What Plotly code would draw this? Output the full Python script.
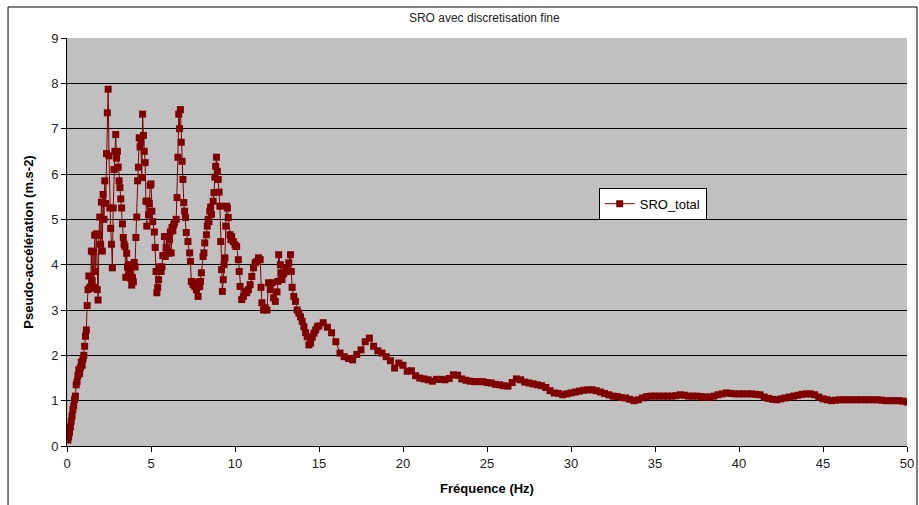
import plotly.graph_objects as go

# Frequencies (Hz) and pseudo-accelerations (m.s-2)
freq_low = [0.05, 0.1, 0.15, 0.2, 0.25, 0.3, 0.35, 0.4, 0.45, 0.5, 0.55, 0.6, 0.65, 0.7, 0.75, 0.8, 0.85, 0.9, 0.95, 1.0,
            1.05, 1.1, 1.15, 1.2, 1.25, 1.3, 1.35, 1.4, 1.45, 1.5, 1.55, 1.6, 1.65, 1.7, 1.75, 1.8, 1.85, 1.9, 1.95, 2.0,
            2.05, 2.1, 2.15, 2.2, 2.25, 2.3, 2.35, 2.4, 2.45, 2.5, 2.55, 2.6, 2.65, 2.7, 2.75, 2.8, 2.85, 2.9, 2.95, 3.0,
            3.05, 3.1, 3.15, 3.2, 3.25, 3.3, 3.35, 3.4, 3.45, 3.5, 3.55, 3.6, 3.65, 3.7, 3.75, 3.8, 3.85, 3.9, 3.95, 4.0,
            4.05, 4.1, 4.15, 4.2, 4.25, 4.3, 4.35, 4.4, 4.45, 4.5, 4.55, 4.6, 4.65, 4.7, 4.75, 4.8, 4.85, 4.9, 4.95, 5.0,
            5.05, 5.1, 5.2, 5.25, 5.3, 5.35, 5.4, 5.45, 5.5, 5.55, 5.6, 5.65, 5.7, 5.8, 5.85, 5.9, 5.95, 6.0,
            6.05, 6.1, 6.15, 6.2, 6.25, 6.3, 6.35, 6.4, 6.5, 6.55, 6.6, 6.65, 6.7, 6.75, 6.8, 6.85, 6.9, 6.95, 7.0,
            7.05, 7.1, 7.2, 7.3, 7.35, 7.4, 7.5, 7.55, 7.6, 7.7, 7.75, 7.8, 7.85, 7.9, 7.95, 8.0,
            8.1, 8.15, 8.2, 8.3, 8.35, 8.4, 8.45, 8.5, 8.55, 8.6, 8.7, 8.75, 8.8, 8.85, 8.9, 8.95, 9.0,
            9.05, 9.1, 9.15, 9.2, 9.25, 9.3, 9.35, 9.4, 9.45, 9.5, 9.55, 9.6, 9.7, 9.75, 9.8, 9.9, 10.0,
            10.05, 10.1, 10.2, 10.25, 10.3, 10.4, 10.5, 10.6, 10.7, 10.8, 10.9, 11.0,
            11.1, 11.2, 11.3, 11.4, 11.5, 11.55, 11.6, 11.7, 11.8, 11.9, 12.0,
            12.1, 12.2, 12.3, 12.4, 12.5, 12.55, 12.6, 12.7, 12.75, 12.8, 12.9, 13.0,
            13.1, 13.2, 13.3, 13.35, 13.4, 13.5, 13.6, 13.7, 13.8, 13.9, 14.0,
            14.1, 14.2, 14.3, 14.4, 14.5, 14.6, 14.7, 14.8, 14.9]
sro_low = [0.13, 0.2, 0.3, 0.42, 0.55, 0.66, 0.8, 0.88, 1.02, 1.1, 1.35, 1.42, 1.55, 1.68, 1.6, 1.73, 1.85, 1.78, 1.92, 2.0,
           2.2, 2.42, 2.56, 3.1, 3.45, 3.75, 3.5, 3.48, 4.3, 3.65, 4.28, 3.5, 4.65, 3.85, 4.68, 3.45, 3.22, 4.65, 5.05, 4.45,
           5.38, 4.3, 5.55, 5.0, 5.85, 5.35, 6.45, 7.35, 7.87, 6.4, 5.25, 4.8, 4.45, 3.93, 5.25, 6.1, 6.5, 6.87, 6.35, 6.5,
           6.15, 5.85, 5.7, 5.45, 5.25, 4.9, 4.6, 4.45, 4.4, 3.72, 4.25, 3.95, 3.75, 4.0, 3.85, 3.7, 3.55, 3.72, 3.62, 4.05,
           3.95, 4.6, 5.05, 5.85, 6.15, 6.8, 6.6, 6.72, 5.92, 7.32, 6.85, 6.5, 6.25, 5.4, 4.85, 5.4, 5.1, 5.35, 5.75, 5.78,
           5.18, 4.95, 4.72, 4.38, 3.85, 3.38, 3.5, 3.67, 3.95, 3.9, 3.85, 3.95, 4.2, 4.62, 4.18, 4.38, 4.62, 4.3,
           4.25, 4.55, 4.72, 4.26, 4.82, 4.75, 4.88, 4.93, 5.0, 5.48, 6.37, 7.32, 7.0, 7.42, 6.7, 6.28, 5.88, 5.37, 5.18,
           5.04, 4.71, 4.51, 4.26, 4.07, 3.63, 3.56, 3.6, 3.52, 3.45, 3.5, 3.3, 3.62, 3.52, 3.63, 3.82,
           4.18, 4.26, 4.48, 4.66, 4.85, 5.0, 4.95, 5.18, 5.27, 5.11, 5.4, 5.59, 5.93, 6.17, 6.37, 6.06, 5.88,
           5.6, 5.29, 4.51, 3.89, 3.41, 3.67, 4.0, 4.15, 4.85, 5.29, 5.25, 5.04, 4.66, 4.55, 4.62, 4.51, 4.44,
           4.4, 4.4, 4.11, 3.85, 3.52, 3.23, 3.3, 3.41, 3.38, 3.45, 3.56, 3.74,
           3.93, 4.04, 4.07, 4.15, 4.11, 3.5, 3.16, 3.0, 3.05, 3.0, 3.6,
           3.45, 3.6, 3.27, 3.19, 3.4, 3.63, 4.22, 4.0, 3.82, 3.67, 3.8, 3.85,
           3.92, 4.04, 4.22, 3.85, 3.5, 3.3, 3.19, 3.0, 2.93, 2.85, 2.75,
           2.63, 2.5, 2.41, 2.23, 2.27, 2.4, 2.49, 2.56, 2.63]

freq_high = [15.0, 15.25, 15.5, 15.75, 16.0, 16.25, 16.5, 16.75, 17.0, 17.25, 17.5, 17.75, 18.0, 18.25, 18.5, 18.75,
             19.0, 19.25, 19.5, 19.75, 20.0, 20.25, 20.5, 20.75, 21.0, 21.25, 21.5, 21.75, 22.0, 22.25, 22.5, 22.75,
             23.0, 23.25, 23.5, 23.75, 24.0, 24.25, 24.5, 24.75, 25.0, 25.25, 25.5, 25.75, 26.0, 26.25, 26.5, 26.75,
             27.0, 27.25, 27.5, 27.75, 28.0, 28.25, 28.5, 28.75, 29.0, 29.25, 29.5, 29.75, 30.0, 30.25, 30.5, 30.75,
             31.0, 31.25, 31.5, 31.75, 32.0, 32.25, 32.5, 32.75, 33.0, 33.25, 33.5, 33.75, 34.0, 34.25, 34.5, 34.75,
             35.0, 35.25, 35.5, 35.75, 36.0, 36.25, 36.5, 36.75, 37.0, 37.25, 37.5, 37.75, 38.0, 38.25, 38.5, 38.75,
             39.0, 39.25, 39.5, 39.75, 40.0, 40.25, 40.5, 40.75, 41.0, 41.25, 41.5, 41.75, 42.0, 42.25, 42.5, 42.75,
             43.0, 43.25, 43.5, 43.75, 44.0, 44.25, 44.5, 44.75, 45.0, 45.25, 45.5, 45.75, 46.0, 46.25, 46.5, 46.75,
             47.0, 47.25, 47.5, 47.75, 48.0, 48.25, 48.5, 48.75, 49.0, 49.25, 49.5, 49.75, 50.0]
sro_high = [2.65, 2.72, 2.62, 2.5, 2.3, 2.05, 1.97, 1.93, 1.9, 2.02, 2.12, 2.3, 2.38, 2.2, 2.1, 2.05,
            1.97, 1.88, 1.72, 1.83, 1.78, 1.65, 1.66, 1.55, 1.5, 1.48, 1.46, 1.43, 1.47, 1.47, 1.46, 1.49,
            1.57, 1.56, 1.48, 1.45, 1.43, 1.42, 1.42, 1.42, 1.4, 1.39, 1.36, 1.35, 1.33, 1.32, 1.4, 1.48,
            1.46, 1.41, 1.39, 1.37, 1.35, 1.33, 1.29, 1.22, 1.17, 1.16, 1.13, 1.15, 1.17, 1.19, 1.21, 1.23,
            1.24, 1.24, 1.22, 1.19, 1.16, 1.13, 1.1, 1.09, 1.07, 1.06, 1.03, 1.0, 1.02, 1.06, 1.09, 1.1,
            1.1, 1.1, 1.1, 1.1, 1.1, 1.11, 1.13, 1.12, 1.1, 1.1, 1.1, 1.09, 1.08, 1.08, 1.1, 1.13,
            1.15, 1.17, 1.16, 1.15, 1.15, 1.15, 1.15, 1.15, 1.14, 1.13, 1.08, 1.05, 1.03, 1.02, 1.04, 1.06,
            1.08, 1.1, 1.12, 1.14, 1.15, 1.15, 1.13, 1.08, 1.04, 1.02, 1.0, 1.01, 1.02, 1.02, 1.02, 1.02,
            1.02, 1.02, 1.02, 1.02, 1.02, 1.02, 1.01, 1.0, 1.0, 1.0, 1.0, 0.99, 0.97]

x_ticks = [0, 5, 10, 15, 20, 25, 30, 35, 40, 45, 50]
y_ticks = [0, 1, 2, 3, 4, 5, 6, 7, 8, 9]

freq = freq_low + freq_high
sro = sro_low + sro_high

DARK_RED = "#800000"
FONT = "Liberation Sans, Arial, sans-serif"

fig = go.Figure()
fig.add_trace(go.Scatter(
    x=freq, y=sro, mode="lines+markers", name="SRO_total",
    line=dict(color=DARK_RED, width=1),
    marker=dict(symbol="square", size=7, color=DARK_RED),
))

fig.update_layout(
    width=919, height=505,
    margin=dict(l=67, r=12, t=38, b=59),
    paper_bgcolor="white",
    plot_bgcolor="#C0C0C0",
    font=dict(family=FONT, size=12, color="black"),
    title=dict(text="SRO avec discretisation fine", x=0.527, xanchor="center",
               y=0.965, yanchor="middle", font=dict(family=FONT, size=12, color="#222")),
    showlegend=True,
    legend=dict(x=0.633, y=0.633, xanchor="left", yanchor="top",
                bgcolor="white", bordercolor="black", borderwidth=1,
                font=dict(family=FONT, size=13, color="black"),
                itemwidth=30, tracegroupgap=0),
    xaxis=dict(range=[0, 50], tickvals=x_ticks, ticks="outside", ticklen=5, tickcolor="black",
               showline=True, linecolor="black", linewidth=1, showgrid=False, zeroline=False,
               automargin=False,
               tickfont=dict(family=FONT, size=13, color="#222"),
               title=dict(text="<b>Fréquence (Hz)</b>", font=dict(family=FONT, size=13), standoff=14)),
    yaxis=dict(range=[0, 9], tickvals=y_ticks, ticks="outside", ticklen=5, tickcolor="black",
               showline=True, linecolor="black", linewidth=1, showgrid=True, gridcolor="black",
               gridwidth=1, zeroline=False, automargin=False,
               tickfont=dict(family=FONT, size=13, color="#222"),
               title=dict(text="<b>Pseudo-accélération (m.s-2)</b>", font=dict(family=FONT, size=13),
                          standoff=14)),
)

# outer chart frame
fig.add_shape(type="rect", xref="paper", yref="paper",
              x0=-0.0702, x1=1.0119, y0=-0.16, y1=1.076,
              line=dict(color="black", width=1), fillcolor="rgba(0,0,0,0)", layer="below")

fig.write_html("out.html",
               config={"displayModeBar": False},
               post_script="document.body.style.margin='0';document.body.style.overflow='hidden';")
